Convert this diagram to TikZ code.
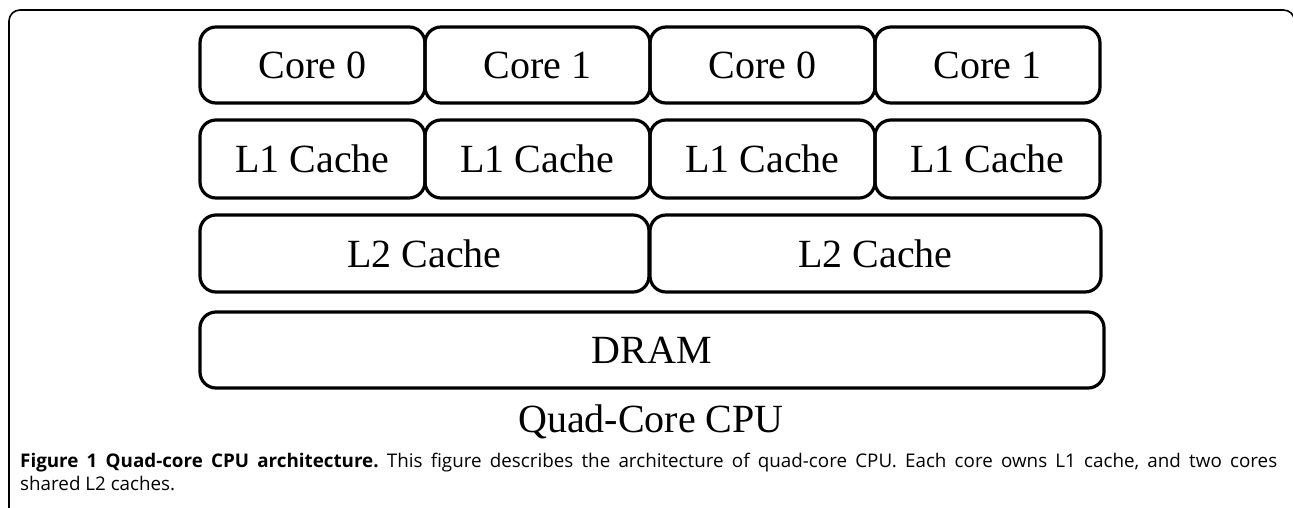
\documentclass[tikz,border=0pt]{standalone}
\usepackage{fontspec}
\setmainfont{Liberation Serif}
\newfontfamily\capfont{Open Sans}
\begin{document}
\begin{tikzpicture}[x=1pt,y=-1pt,
  cell/.style={draw, line width=3.2pt, rounded corners=16pt, inner sep=0pt,
    font=\fontsize{40}{48}\selectfont, minimum height=#1},
  cell/.default=77pt]
\useasboundingbox (0,0) rectangle (1293,507);
% outer frame
\draw[line width=1.6pt, rounded corners=11pt] (9,512) -- (9,10) -- (1294.5,10) -- (1294.5,512);
% cores
\node[cell=76pt, minimum width=225pt] (c00) at (312.5,65) {Core 0};
\node[cell=76pt, minimum width=225pt] (c01) at (537.5,65) {Core 1};
\node[cell=76pt, minimum width=225pt] (c10) at (762.5,65) {Core 0};
\node[cell=76pt, minimum width=225pt] (c11) at (987.5,65) {Core 1};
% L1
\node[cell=78pt, minimum width=225pt] (l00) at (312.5,159) {L1 Cache};
\node[cell=78pt, minimum width=225pt] (l01) at (537.5,159) {L1 Cache};
\node[cell=78pt, minimum width=225pt] (l10) at (762.5,159) {L1 Cache};
\node[cell=78pt, minimum width=225pt] (l11) at (987.5,159) {L1 Cache};
% L2
\node[cell=77pt, minimum width=449pt] (l2a) at (424.5,253.5) {L2 Cache};
\node[cell=77pt, minimum width=451pt] (l2b) at (875.5,253.5) {L2 Cache};
% DRAM
\node[cell=76pt, minimum width=904pt] (dram) at (652,350) {DRAM};
% label
\node[anchor=base, inner sep=0pt, font=\fontsize{40}{48}\selectfont] (lbl) at (651,432) {Quad-Core CPU};
% caption
\node[anchor=base west, inner sep=0pt] (cap) at (20,467) {\parbox[t]{1257pt}{\capfont\fontsize{18.8}{23.5}\selectfont\frenchspacing
\textbf{Figure 1 Quad-core CPU architecture.} This figure describes the architecture of quad-core CPU. Each core owns L1 cache, and two cores\linebreak shared L2 caches.}};
\end{tikzpicture}
\end{document}
